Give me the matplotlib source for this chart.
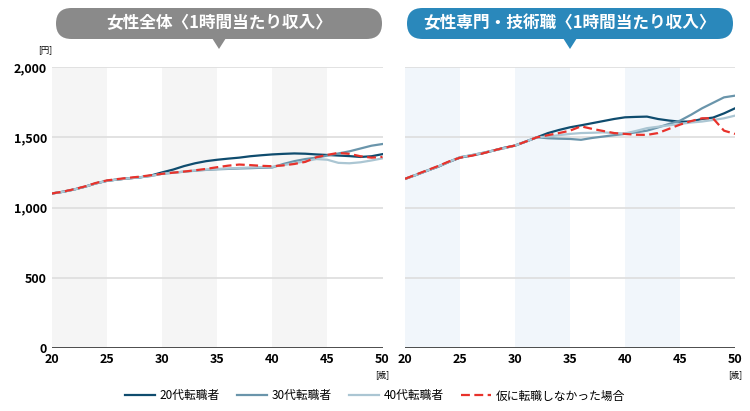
import matplotlib
matplotlib.use("Agg")
import matplotlib.pyplot as plt
from matplotlib.patches import FancyBboxPatch, Polygon

plt.rcParams["font.family"] = ["Noto Sans CJK JP", "DejaVu Sans"]

ages = list(range(20, 51))
# Left panel: 女性全体
L_20s = [1100,1112,1128,1148,1172,1190,1200,1208,1215,1228,1250,1270,1295,1315,1330,1340,1348,1355,1365,1372,1378,1382,1385,1383,1378,1374,1370,1366,1360,1365,1380]
L_30s = [1100,1112,1128,1148,1172,1190,1200,1208,1215,1225,1240,1248,1255,1262,1268,1272,1275,1278,1280,1283,1285,1310,1330,1345,1355,1370,1385,1400,1420,1440,1452]
L_40s = [1100,1112,1128,1148,1172,1190,1200,1208,1215,1225,1240,1248,1256,1264,1270,1275,1278,1282,1285,1288,1290,1302,1315,1330,1345,1340,1318,1315,1322,1335,1350]
L_hyp = [1100,1113,1130,1150,1175,1193,1203,1212,1220,1230,1240,1248,1256,1265,1275,1287,1298,1306,1302,1297,1294,1300,1310,1325,1358,1375,1389,1382,1365,1355,1360]
# Right panel: 女性専門・技術職
R_20s = [1204,1232,1262,1290,1325,1355,1370,1385,1405,1425,1441,1470,1500,1530,1552,1571,1585,1600,1615,1630,1642,1645,1647,1630,1619,1611,1612,1630,1640,1670,1706]
R_30s = [1204,1232,1262,1292,1325,1358,1372,1388,1405,1422,1441,1470,1500,1493,1490,1488,1482,1495,1505,1515,1524,1535,1547,1570,1595,1618,1660,1706,1745,1784,1796]
R_40s = [1204,1232,1262,1292,1325,1358,1372,1388,1405,1422,1441,1470,1500,1505,1515,1524,1530,1532,1535,1530,1527,1545,1565,1575,1585,1595,1605,1612,1623,1635,1654]
R_hyp = [1204,1235,1265,1295,1328,1355,1368,1384,1405,1425,1441,1470,1500,1515,1530,1547,1578,1560,1545,1530,1524,1518,1517,1530,1560,1590,1615,1635,1635,1547,1524]

series_names = ["20代転職者", "30代転職者", "40代転職者", "仮に転職しなかった場合"]
colors = ["#0f4c6e", "#6a95ab", "#abc6d3", "#e8322b"]
titles = ["女性全体〈1時間当たり収入〉", "女性専門・技術職〈1時間当たり収入〉"]
title_colors = ["#8a8a8a", "#2a88bb"]
shade_colors = ["#f5f5f5", "#f1f6fb"]
yticks = [0, 500, 1000, 1500, 2000]
ytick_labels = ["0", "500", "1,000", "1,500", "2,000"]
xticks = [20, 25, 30, 35, 40, 45, 50]

fig = plt.figure(figsize=(7.5, 4.11), dpi=100)
axL = fig.add_axes([0.069, 0.153, 0.441, 0.684])
axR = fig.add_axes([0.54, 0.153, 0.44, 0.684])

lines = []
for i, (ax, data) in enumerate([(axL, [L_20s, L_30s, L_40s, L_hyp]), (axR, [R_20s, R_30s, R_40s, R_hyp])]):
    for s in (20, 30, 40):
        ax.axvspan(s, s + 5, color=shade_colors[i], zorder=0, lw=0)
    for y in yticks:
        ax.axhline(y, color="#dddddd", lw=1.2, zorder=1)
    hs = []
    for j, d in enumerate(data):
        if j == 3:
            h, = ax.plot(ages, d, color=colors[j], lw=1.6, ls="--", dashes=(4, 2), zorder=3)
        else:
            h, = ax.plot(ages, d, color=colors[j], lw=1.6, zorder=2)
        hs.append(h)
    lines = hs
    ax.set_xlim(20, 50)
    ax.set_ylim(0, 2000)
    ax.set_xticks(xticks)
    ax.set_yticks(yticks)
    for sp in ax.spines.values():
        sp.set_visible(False)
    ax.tick_params(length=0, labelsize=9)
    ax.axhline(0, color="#333333", lw=1.2, zorder=4)
    ax.text(50, -190, "[歳]", fontsize=6, ha="center", va="center")
    if i == 0:
        ax.set_yticklabels(ytick_labels)
        ax.text(-0.02, 2090, "[円]", fontsize=6, ha="center", va="bottom", transform=ax.get_yaxis_transform())
    else:
        ax.set_yticklabels([])
    for lab in ax.get_xticklabels() + ax.get_yticklabels():
        lab.set_fontweight("bold")

# overlay axes in pixel units for title pills
ov = fig.add_axes([0, 0, 1, 1], zorder=-1)
ov.set_xlim(0, 750)
ov.set_ylim(0, 411)
ov.axis("off")
pill_boxes = [(56, 372, 326, 31), (407, 372, 326, 31)]
for i, (x, y, w, h) in enumerate(pill_boxes):
    ov.add_patch(FancyBboxPatch((x, y), w, h, boxstyle=f"round,pad=0,rounding_size={h/2}",
                                facecolor=title_colors[i], edgecolor="none"))
    cx = x + w / 2
    ov.add_patch(Polygon([[cx - 7, y + 1], [cx + 7, y + 1], [cx, y - 10]], closed=True,
                         facecolor=title_colors[i], edgecolor="none"))
    ov.text(cx, y + h / 2, titles[i], color="white", fontsize=12, fontweight="bold",
            ha="center", va="center")

fig.legend(lines, series_names, loc="lower center", bbox_to_anchor=(0.5, -0.005), ncol=4,
           frameon=False, fontsize=8.5, handlelength=2.5, columnspacing=1.5, handletextpad=0.4)

fig.savefig("out.png", dpi=100)
